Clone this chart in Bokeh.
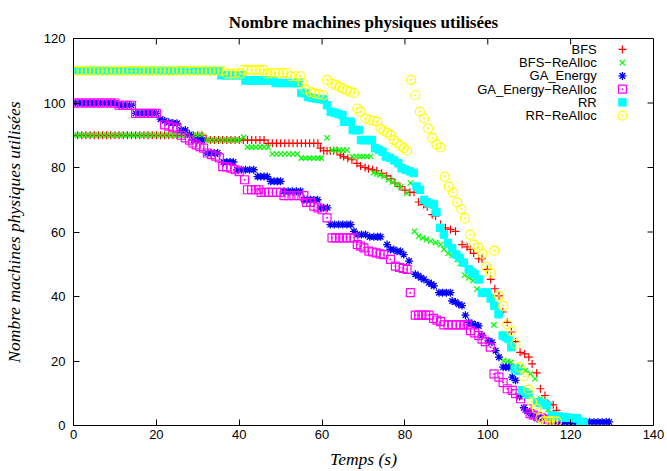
from bokeh.plotting import figure
from bokeh.models import Range1d
from bokeh.core.properties import value
from bokeh.embed import file_html
from bokeh.resources import INLINE

# ---------------- data ----------------
bfs_x = [0, 1, 2, 3, 4, 5, 6, 7, 8, 9, 10, 11, 12, 13, 14, 15, 16, 17, 18, 19, 20, 21, 22, 23, 24, 25, 26, 27, 28, 29, 30, 31,
         32, 33, 34, 35, 36, 37, 38, 39, 40, 41, 42, 43, 44, 45, 46,
         47, 48, 49, 50, 51, 52, 53, 54, 55, 56, 57, 58, 59,
         59.6, 60.4, 61.2, 62, 62.8, 63.6,
         64.4, 65.2, 66.2, 67.2, 68.4, 69.3, 70.4, 71.2, 72.2, 73.2, 74.4, 75.6, 76.6, 77.6, 78.8, 80, 81.2, 82.2,
         83.3, 84.5, 85.4, 86.6, 87.4, 88.6, 89.8, 91, 92.2, 93.8, 95, 95.8, 96.6, 97.8, 98.6, 99.9, 100.7, 101.7,
         102.7, 103.6, 104.7, 105.7, 106.7, 107.8, 108.9, 109.9, 110.7, 111.8, 112.7, 113.8, 114.7, 115.8, 116.6,
         117.2, 117.8]
bfs_y = [90] * 32 + [89] + [88.5] * 14 + [87.5] * 13 + [86] + [85.2] * 5 + \
        [83.9, 83.4, 82.9, 82.4, 81.3, 80.5, 80, 79.6, 79.3, 79, 78.2, 77.4, 76.5, 75.2, 74.1, 73, 72.3, 72.3,
         69.3, 68.5, 67.8, 65.4, 64.9, 62.3, 61.3, 60.8, 60.2, 56.1, 55.4, 54.6, 53.4, 51.7, 51.7, 48.4, 45.3, 42.4,
         40.2, 35.2, 32, 29, 26, 22.7, 22.2, 21.2, 19.1, 16.3, 11.4, 9.3, 6.6, 6.4, 4.7, 2.5, 1]

bfsr_x = [0, 1, 2, 3, 4, 5, 6, 7, 8, 9, 10, 11, 12, 13, 14, 15, 16, 17, 18, 19, 20, 21, 22, 23, 24, 25, 26, 27, 28, 29, 30, 31,
          32, 33, 34, 35, 36, 37, 38, 39, 40, 41.1,
          42, 43, 44, 45, 46, 47, 48, 49, 50, 51, 52, 53, 54, 55, 56, 57, 58, 59, 59.8, 61.2,
          62.4, 63.3, 64.2, 65.1, 66, 67.3, 68.2, 69.1, 70, 70.9, 71.7,
          72.4, 73.2, 74, 75, 76, 77, 78, 79, 80.5, 81.3, 82.3, 83.3, 84.3, 85.2, 86.2, 87.4, 88.6, 89.4, 90.4,
          91.4, 92.6, 93.4, 94.4, 95.4, 96.4, 97.4, 101.5, 103.8, 104.8, 105.6, 106.7, 107.9, 109.1, 110.3, 111.4,
          112.7, 113.8, 114.6, 115.2, 115.8]
bfsr_y = [90] * 32 + [88.5] * 9 + [89.4] + [86.3] * 6 + [84.2] * 7 + [82.9] * 6 + [89.2] + [85.4] * 5 + [83.4] * 6 + \
         [78.4, 78, 77.7, 77.2, 76.2, 75.5, 74.8, 74, 72, 75.2, 60.2, 58.7, 58.2, 57.7, 57.2, 56.7, 56.1, 54.6, 53.4,
          52.7, 51.5, 50.2, 46.6, 45.8, 44.9, 42.3, 31.2, 20.1, 19.9, 19.6, 18.4, 18.1, 17, 16, 14.5,
          8.3, 7.5, 5, 3, 1]

ga_x = [0, 1, 2, 3, 4, 5, 6, 7, 8, 9, 10, 11, 12, 13, 14, 15, 16, 17, 18, 19, 20, 21, 22, 23, 24, 25, 26, 27, 28, 29, 30, 31,
        32.3, 33.2, 34, 34.8, 36.2, 37, 37.8, 38.6, 39.5, 40.5, 41.5, 42.5, 43.5, 44.4, 45.2, 46, 46.8,
        47.6, 48.4, 49.2, 50, 50.8, 51.8, 52.8, 53.8, 54.8, 55.6, 56.4, 57.2, 58, 58.9, 59.6, 60.4, 61.3,
        62, 63, 64, 65, 66, 66.9, 67.7, 68.5, 69.5, 70.5, 71.5, 72.5, 73.4, 74.1, 75.7, 76.5, 77.3, 78.1, 78.9,
        79.7, 81, 82.5, 83.2, 83.9, 84.6, 85.8, 86.4, 87, 88.2, 89.1, 90, 91, 91.4, 92.2, 93, 93.8, 94.6,
        95.4, 96.2, 97, 97.8, 98.6, 100.2, 101, 101.9, 102.7, 103.7, 104.4, 105.1, 105.9, 106.7, 107.7,
        108.7, 109.5, 110.3, 111.1, 111.9, 112.7, 113.7, 114.7, 115.7, 116.7,
        117.6, 118.6, 119.6, 120.6, 121.6, 122.6, 123.6, 124.6, 125.6, 126.6, 127.6, 128.6, 129.3]
ga_y = [100] * 11 + [99.3] * 4 + [96.8] * 6 + [95, 94.5, 94, 93.8, 93.7, 91.6, 91.6, 90.2, 88.5, 88.5, 88.5] + \
       [84.5] * 4 + [81.7] * 4 + [79.3] * 5 + [77.2] * 4 + [75.7] * 4 + [72.6] * 5 + [70] * 5 + [67.5] * 3 + \
       [62.3] * 6 + [60.2, 59.2, 59.2, 59.2, 58.5, 58.5, 58.5, 58.5, 56.1, 54.6, 54.6, 54, 54,
                     53, 51, 46.9, 46.4, 45.8, 45.3, 44.3, 43.8, 43.3, 41.2, 41.2, 41.2, 41.2, 38.6, 38.3, 37.6, 37.2, 34.2,
                     32, 31.6, 31.2, 30.9, 27.9, 26.3, 25.8, 23.2, 21.2, 18.1, 18.1, 18.1, 15, 14, 9,
                     5.5, 4.5, 3.7, 3, 2.2, 2.2, 1.8, 1.5, 1.2, 1.1] + [1.1] * 13

gar_x = [0, 1, 2, 3, 4, 5, 6, 7, 8, 9, 10, 11, 12, 13, 14, 15, 16, 17, 18, 19, 20,
         22, 23, 24, 25, 26, 27, 28, 28.8, 29.6, 30.5, 31.4, 32.3, 33.3, 34.3, 35.2, 36, 37, 38, 39, 40, 41.3,
         42, 43, 44, 44.7, 45.3, 46.2, 47.1, 48, 49, 50, 50.8, 52, 53.2, 54.4, 55.6, 56.2, 57.2, 58, 59, 60, 61.2,
         62.4, 63.3, 64.2, 65, 65.9, 66.8, 67.7, 68.5, 69.3, 70.1, 71.3, 72.2, 73.1, 74, 74.9, 76.5,
         77.7, 78.7, 79.6, 80.5, 81.3, 82.5, 83.3, 84.1, 85, 85.8, 86.9, 87.7, 88.6,
         89.4, 90.4, 91.4, 92.4, 93.4, 94.2, 95, 95.8, 96.8, 97.8, 98.6, 99.4, 100.6, 101.5, 102.7, 103.7,
         104.7, 105.9, 106.7, 107.9, 109.5, 110.2, 111, 112, 113, 114, 115, 116, 116.7]
gar_y = [100] * 11 + [99.3] * 4 + [96.8] * 6 + \
        [93.2, 92.8, 92.5, 92.2, 90, 89.2, 88.5, 87.6, 87, 86.5, 86, 84.5, 84, 83.5, 83, 80.3, 80.2, 79.8, 79.3, 78.7, 76.2] + \
        [73.1] * 4 + [72.3] * 6 + [71.3] * 5 + [69.2, 69.2, 68, 67.5, 66.9, 64.4] + [58.2] * 7 + \
        [56.1, 55.6, 55.1, 54.1, 53.8, 53.5, 53.2, 53, 51.5, 49.4, 49, 48.7, 48.4, 41.2] + [34.2] * 5 + \
        [33.2, 32.7, 32.2] + [31.2] * 7 + [29.4, 28.7, 27.9, 26.8, 26, 24.3, 16, 15, 13.3,
                                            11.4, 10.9, 9.9, 8.3, 5.2, 3.7, 3.2, 2.8, 2.4, 2, 1.7, 1.4, 1.2]

rr_x = [0, 1, 2, 3, 4, 5, 6, 7, 8, 9, 10, 11, 12, 13, 14, 15, 16, 17, 18, 19, 20, 21, 22, 23, 24, 25, 26, 27, 28, 29, 30,
        31, 32, 33, 34, 35,
        35.7, 36.7, 37.7, 38.7, 39.7, 40.7, 41.5, 42.5, 43.5, 44.5, 45.5, 46.5, 47.5, 48.3,
        48.8, 49.8, 50.8, 51.8, 52.8, 53.6, 54.3, 55, 55.8, 56.6, 57.5, 58.5, 59.5, 60.4, 61.2,
        62.1, 63, 64, 64.9, 65.3, 66.1, 66.9, 67.4, 68.2, 68.9, 69.4, 70.3, 71.2, 72, 72.8, 73.7, 74.6,
        75.4, 76.4, 77.4, 78.4, 79.2, 80.2, 81.2, 82.1, 82.8, 83.6, 84.6, 85.4, 86.2, 87, 87.6, 88.5, 89.4,
        90.4, 91.4, 92.4, 93.2, 94.2, 95.4, 96.2, 96.8, 97.8, 98.6, 99.4, 99.9, 100.7, 101.6, 102.6,
        103.6, 104.3, 105, 105.7, 106.5, 107.3, 108.3, 109.1, 109.8, 111.9, 112.7, 113.5, 114.3,
        115.5, 116.3, 117.1, 118, 118.9, 119.8, 120.7, 121.6, 122.4, 123.2]
rr_y = [110] * 36 + [108.6] * 6 + [107] * 8 + [106.2] * 7 + [103.1, 103.1, 101.9, 101.6, 101.4, 101.2, 101.1, 99.3,
                                                            97.3, 97, 96.6, 96.2, 94.2, 94.2, 94.2, 91.6, 91.6, 91.6,
                                                            88.5, 88.5, 88.5, 88.5, 86, 85.5, 84.9,
                                                            83.4, 83, 82.2, 81.3, 79.8, 79.3, 78.8, 78.3, 74.1, 73.1,
                                                            70, 69.2, 68.8, 68.5, 66.1, 61.3, 59.2,
                                                            56.5, 55, 53, 52, 50.5, 48.4, 47.6, 46.9, 45.3, 41.2, 41.2,
                                                            41.2, 39.4, 37.1, 34.5,
                                                            27.9, 27.4, 26.8, 24.3, 17.6, 16.9, 10.9, 10.3, 9.6, 7.3,
                                                            7, 6.6, 6.3,
                                                            3.2, 3, 2.8, 2.6, 2.4, 2.4, 2.3, 2.2, 1.1, 1.1]

rrr_x = [0, 1, 2, 3, 4, 5, 6, 7, 8, 9, 10, 11, 12, 13, 14, 15, 16, 17, 18, 19, 20, 21, 22, 23, 24, 25, 26, 27, 28, 29, 30,
         31, 32, 33, 34, 35, 36,
         37, 38, 39, 40.3, 41, 42, 43, 44, 45, 45.9, 46.8, 47.6, 48.6, 49.6, 50.6, 51.6, 52.4, 53.6, 54.8,
         55.3, 56, 57.2, 58.2, 59.3, 60.3, 61.2, 62.4, 63.3, 64.2, 65, 65.9, 66.8, 67.7, 68.5, 69.3,
         70.5, 71.4, 72.4, 73.3, 74.1, 74.9, 75.7, 76.5, 77.3, 78.1, 78.9, 79.7, 80.5,
         81.5, 82.5, 83.6, 84.6, 85.6, 86.6, 87.6, 88.6, 89.6, 90.6, 91.6, 92.6, 93.6, 94.5, 95.7, 96.6,
         97.7, 98.7, 99.6, 100.7, 101.6, 102.7, 103.7, 104.7, 105.7, 106.7, 107.7, 108.7, 109.8, 110.7,
         111.8, 112.7, 113.4, 114.2, 115, 115.8, 116.7]
rrr_y = [110] * 37 + [109.1] * 4 + [110.3] * 6 + [109.1] + [109.3] * 5 + [108.3] * 3 + \
        [106.2, 104.2, 103.4, 103, 102.7, 102.4, 107.2, 106, 105.6, 105, 104.5, 104, 103.5, 103.1, 98.3, 97.3,
         95.2, 94.8, 94.5, 94.2, 92.1, 91.4, 90.8, 90.1, 88.5, 87.6, 86.8, 86, 85.2,
         107.2, 102.4, 97.3, 95.2, 92.1, 89.2, 87.2, 86.2, 77.2, 74.1, 72.3, 69.2, 67.1, 64.2, 59.2, 56.1,
         55.2, 53.2, 49.2, 47.3, 54.2, 40.2, 37.1, 31.4, 29.2, 25.3, 18.1, 15.2, 11.1, 7.3,
         5.2, 2.4, 1.3, 1.3, 1.3, 1.3, 1.3]

series_names = ["BFS", "BFS\u2212ReAlloc", "GA_Energy", "GA_Energy\u2212ReAlloc", "RR", "RR\u2212ReAlloc"]
x_ticks = [0, 20, 40, 60, 80, 100, 120, 140]
y_ticks = [0, 20, 40, 60, 80, 100, 120]
X_MAX = 140
Y_MAX = 120

# ---------------- styles ----------------
styles = [
    dict(marker="cross", size=8, line_color="#ff0000", fill_color=None, line_width=1.2),
    dict(marker="x", size=7.5, line_color="#00ff00", fill_color=None, line_width=1.2),
    dict(marker="asterisk", size=8, line_color="#0000ff", fill_color=None, line_width=1.3),
    dict(marker="square_dot", size=8, line_color="#ff00ff", fill_color=None, line_width=1.2),
    dict(marker="square", size=7.5, line_color="#00ffff", fill_color="#00ffff", line_width=1),
    dict(marker="circle_dot", size=9, line_color="#ffff00", fill_color=None, line_width=1.2),
]

SANS = "Liberation Sans"
SERIF = "Liberation Serif"

W, H = 667, 471
B_LEFT, B_RIGHT, B_TOP, B_BOTTOM = 73, 14, 38, 44
FRAME_W = W - B_LEFT - B_RIGHT
FRAME_H = H - B_TOP - B_BOTTOM
TICK_PX = 6

p = figure(width=W, height=H, output_backend="svg", toolbar_location=None,
           x_range=Range1d(0, X_MAX), y_range=Range1d(0, Y_MAX),
           min_border_left=B_LEFT, min_border_right=B_RIGHT, min_border_top=B_TOP, min_border_bottom=B_BOTTOM,
           background_fill_color="white", border_fill_color="white")

p.title.text = "Nombre machines physiques utilisées"
p.title.align = "center"
p.title.text_font = SERIF
p.title.text_font_style = "bold"
p.title.text_font_size = "17px"
p.title.text_color = "black"
p.title.standoff = 14

p.xgrid.visible = False
p.ygrid.visible = False
p.outline_line_color = "black"
p.outline_line_alpha = 1

for ax in p.xaxis + p.yaxis:
    ax.major_tick_in = TICK_PX
    ax.major_tick_out = 0
    ax.minor_tick_in = 0
    ax.minor_tick_out = 0
    ax.axis_line_color = "black"
    ax.major_tick_line_color = "black"
    ax.major_label_text_font = SANS
    ax.major_label_text_font_size = "13px"
    ax.major_label_text_color = "black"
    ax.axis_label_text_font = SERIF
    ax.axis_label_text_font_style = "italic"
    ax.axis_label_text_font_size = "17.5px"
    ax.axis_label_text_color = "black"

p.xaxis.ticker = x_ticks
p.yaxis.ticker = y_ticks
p.xaxis.axis_label = "Temps (s)"
p.yaxis.axis_label = "Nombre machines physiques utilisées"
p.xaxis.major_label_standoff = 4
p.xaxis.axis_label_standoff = 7
p.yaxis.major_label_standoff = 8
p.yaxis.axis_label_standoff = 17

# mirrored (gnuplot-style) ticks on the top and right edges
ty = TICK_PX * Y_MAX / FRAME_H
tx = TICK_PX * X_MAX / FRAME_W
top_t = [t for t in x_ticks if 0 < t < X_MAX]
right_t = [t for t in y_ticks if 0 < t < Y_MAX]
p.segment(x0=top_t, y0=[Y_MAX] * len(top_t), x1=top_t, y1=[Y_MAX - ty] * len(top_t),
          line_color="black", line_width=1)
p.segment(x0=[X_MAX] * len(right_t), y0=right_t, x1=[X_MAX - tx] * len(right_t), y1=right_t,
          line_color="black", line_width=1)

all_x = [bfs_x, bfsr_x, ga_x, gar_x, rr_x, rrr_x]
all_y = [bfs_y, bfsr_y, ga_y, gar_y, rr_y, rrr_y]
for xs, ys, st in zip(all_x, all_y, styles):
    p.scatter(x=xs, y=ys, **st)

# gnuplot-style key: right-aligned labels, sample marker to the right
key_text_x = 126.3
key_mark_x = 132.5
key_top = 116.6
key_step = 4.1
for i, (name, st) in enumerate(zip(series_names, styles)):
    yk = key_top - i * key_step
    p.text(x=[key_text_x], y=[yk], text=[name], text_align="right", text_baseline="middle",
           text_font=value(SANS), text_font_size="13px", text_color="black")
    p.scatter(x=[key_mark_x], y=[yk], **st)

open("out.html", "w").write(file_html(p, INLINE))
